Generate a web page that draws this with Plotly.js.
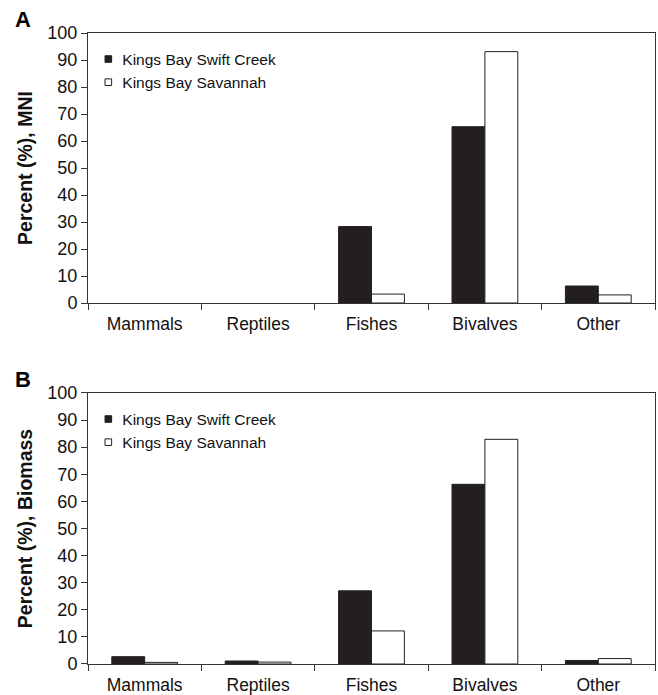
<!DOCTYPE html>
<html>
<head>
<meta charset="utf-8">
<script src="https://cdn.plot.ly/plotly-3.0.1.min.js"></script>
<style>html,body{margin:0;padding:0;background:#fff;}#chart{width:658px;height:695px;}</style>
</head>
<body>
<div id="chart"></div>
<script>
var categories = ["Mammals", "Reptiles", "Fishes", "Bivalves", "Other"];
var seriesNames = ["Kings Bay Swift Creek", "Kings Bay Savannah"];
// Panel A: Percent (%), MNI
var mniSwiftCreek = [0, 0, 28.3, 65.3, 6.3];
var mniSavannah = [0, 0, 3.3, 93.1, 3.0];
// Panel B: Percent (%), Biomass
var bioSwiftCreek = [2.7, 1.1, 27.0, 66.3, 1.3];
var bioSavannah = [0.6, 0.7, 12.2, 82.9, 2.0];
var yTicks = [0, 10, 20, 30, 40, 50, 60, 70, 80, 90, 100];

var ink = "#231f20";
var font = "Liberation Sans, Arial, Helvetica, sans-serif";

function bar(name, y, xa, ya, fill, leg) {
  return {
    type: "bar", name: name, x: categories,
    // zero values have no visible bar in the original
    y: y.map(function (v) { return v === 0 ? null : v; }),
    xaxis: xa, yaxis: ya,
    marker: {color: fill, line: {color: ink, width: 1}},
    legend: leg, hoverinfo: "skip"
  };
}

var data = [
  bar(seriesNames[0], mniSwiftCreek, "x", "y", ink, "legend"),
  bar(seriesNames[1], mniSavannah, "x", "y", "#ffffff", "legend"),
  bar(seriesNames[0], bioSwiftCreek, "x2", "y2", ink, "legend2"),
  bar(seriesNames[1], bioSavannah, "x2", "y2", "#ffffff", "legend2")
];

function xAxis(anchor) {
  return {
    anchor: anchor, domain: [0, 1], type: "category",
    showline: true, linecolor: "#333", linewidth: 1, mirror: true,
    ticks: "outside", tickson: "boundaries", ticklen: 6, tickcolor: "#333",
    ticklabelstandoff: 5,
    tickfont: {family: font, size: 17.5, color: "#111"},
    showgrid: false, zeroline: false, fixedrange: true
  };
}
function yAxis(anchor, dom, title) {
  return {
    anchor: anchor, domain: dom, range: [0, 100],
    tickvals: yTicks, ticktext: yTicks.map(String),
    showline: true, linecolor: "#333", linewidth: 1, mirror: true,
    ticks: "outside", ticklen: 6, tickcolor: "#333",
    tickfont: {family: font, size: 18, color: "#111"},
    showgrid: false, zeroline: false, fixedrange: true,
    title: {text: title, font: {family: font, size: 19.5, color: "#111", weight: "bold"}, standoff: 9}
  };
}

var legendBase = {
  x: -0.01, xanchor: "left", yanchor: "top",
  bgcolor: "rgba(0,0,0,0)", borderwidth: 0,
  font: {family: font, size: 15.5, color: "#111"},
  tracegroupgap: 0, itemclick: false, itemdoubleclick: false
};

var layout = {
  width: 658, height: 695,
  margin: {l: 88, r: 3, t: 33, b: 31},
  paper_bgcolor: "#fff", plot_bgcolor: "#fff",
  barmode: "group", bargap: 0.42, bargroupgap: 0,
  showlegend: true,
  xaxis: xAxis("y"),
  yaxis: yAxis("x", [0.5721, 1], "Percent (%), MNI"),
  xaxis2: xAxis("y2"),
  yaxis2: yAxis("x2", [0, 0.4295], "Percent (%), Biomass"),
  legend: Object.assign({}, legendBase, {y: 0.985}),
  legend2: Object.assign({}, legendBase, {y: 0.4145}),
  annotations: [
    {text: "<b>A</b>", xref: "paper", yref: "paper", x: -0.133, y: 1.022, xanchor: "left", yanchor: "middle", showarrow: false, font: {family: font, size: 22, color: "#000"}},
    {text: "<b>B</b>", xref: "paper", yref: "paper", x: -0.133, y: 0.4515, xanchor: "left", yanchor: "middle", showarrow: false, font: {family: font, size: 22, color: "#000"}}
  ]
};

Plotly.newPlot("chart", data, layout, {staticPlot: true, displayModeBar: false}).then(function (gd) {
  // the original uses small square legend keys
  gd.querySelectorAll(".legendpoints path").forEach(function (p) {
    var t = p.getAttribute("transform") || "";
    p.setAttribute("transform", t + " translate(6,0) scale(0.55)");
    p.setAttribute("vector-effect", "non-scaling-stroke");
  });
});
</script>
</body>
</html>
